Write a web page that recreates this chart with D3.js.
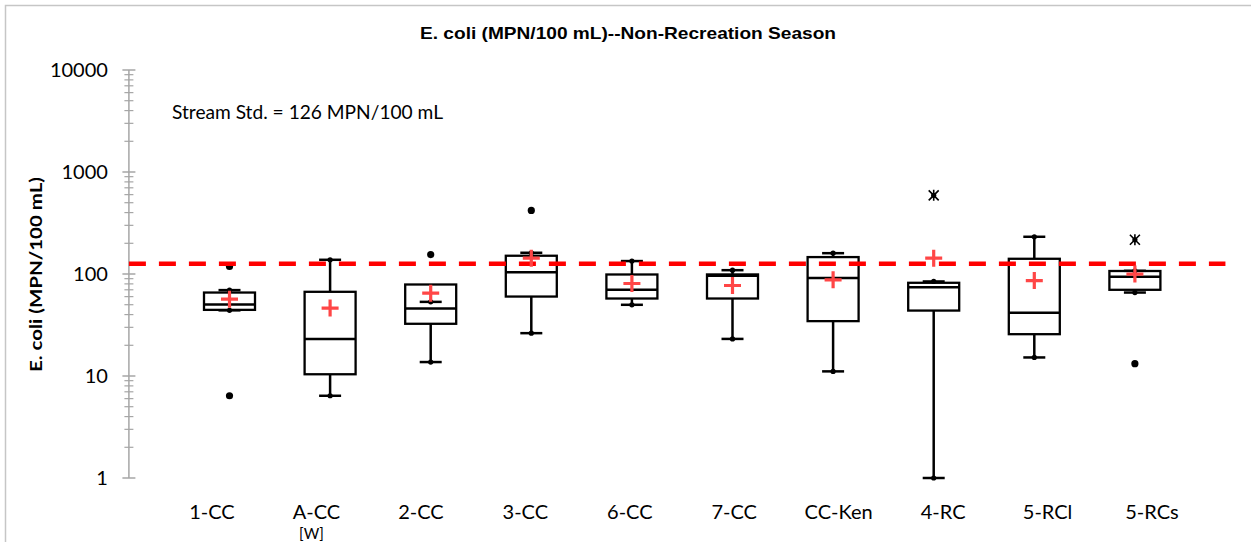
<!DOCTYPE html>
<html>
<head>
<meta charset="utf-8">
<script src="https://cdn.jsdelivr.net/npm/d3@7"></script>
<style>
  html, body { margin: 0; padding: 0; background: #fff; }
  svg { display: block; }
</style>
</head>
<body>
<svg id="chart" width="1251" height="542"></svg>
<script>
// Sampling stations along the creeks
const categories = ["1-CC", "A-CC", "2-CC", "3-CC", "6-CC", "7-CC", "CC-Ken", "4-RC", "5-RCl", "5-RCs"];
const categorySubLabels = ["", "[W]", "", "", "", "", "", "", "", ""];

// Box-plot statistics, E. coli MPN/100 mL
const whiskerLow  = [44,   6.4,  13.7, 26.3, 49.9, 23.1, 11.1, 1.0,  15.2, 65.8];
const quartile1   = [44.5, 10.4, 32.5, 60.1, 57.5, 57.5, 34.5, 43.8, 25.7, 70];
const medians     = [50.2, 23.1, 45.9, 104,  70,   96,   91.2, 74.3, 41.6, 93.9];
const quartile3   = [65.8, 66.9, 78.9, 151,  98.9, 99,   146.5, 82,  141,  107];
const whiskerHigh = [69.5, 137.8, 53.3, 161.5, 133.9, 109, 160, 84.5, 231.7, 107.5];
const means       = [56.7, 46.3, 64.9, 143,  80.7, 77.1, 87.7, 143,  86.3, 99.8];
const outliers    = [[118.5, 6.4], [], [155], [420], [], [], [], [], [], [13.2]];
const extremes    = [[], [], [], [], [], [], [], [590], [], [216.6]];

const streamStandard = 126;
const yTickValues = [1, 10, 100, 1000, 10000];

const svg = d3.select("#chart");
const W = 1251, H = 542;

// Outer chart frame
svg.append("rect")
  .attr("x", 5.5).attr("y", 5.5)
  .attr("width", W + 10).attr("height", H + 10)
  .attr("fill", "#fff").attr("stroke", "#c6c6c6").attr("stroke-width", 1.5);

const y = d3.scaleLog().domain([1, 10000]).range([478, 70]);
const x = d3.scaleLinear().domain([0, 11]).range([128.9, 1235.5]);
const labelX = d3.scalePoint().domain(categories).range([212, 1152]);

// Title
svg.append("text")
  .attr("x", 420).attr("y", 38.5)
  .attr("font-family", "'Liberation Sans', Arial, sans-serif")
  .attr("font-weight", "bold")
  .attr("font-size", 16.5)
  .attr("textLength", 416)
  .attr("lengthAdjust", "spacingAndGlyphs")
  .attr("fill", "#000")
  .text("E. coli (MPN/100 mL)--Non-Recreation Season");

// Y axis title
svg.append("text")
  .attr("transform", "translate(42,372) rotate(-90)")
  .attr("font-family", "Lato, 'Open Sans', sans-serif")
  .attr("font-weight", "bold")
  .attr("font-size", 17)
  .attr("textLength", 195)
  .attr("lengthAdjust", "spacingAndGlyphs")
  .attr("fill", "#000")
  .text("E. coli (MPN/100 mL)");

// Y axis with decade ticks and minor ticks
const minorTicks = [];
for (let d = 1; d < 10000; d *= 10) {
  for (let k = 2; k <= 9; k++) minorTicks.push(d * k);
}
const axisG = svg.append("g").attr("transform", `translate(${x(0)},0)`);
axisG.append("line")
  .attr("x1", 0).attr("x2", 0)
  .attr("y1", y(10000)).attr("y2", y(1))
  .attr("stroke", "#a6a6a6").attr("stroke-width", 1.5);
axisG.selectAll("line.minor").data(minorTicks).join("line")
  .attr("class", "minor")
  .attr("x1", -4.5).attr("x2", 4.5)
  .attr("y1", d => y(d)).attr("y2", d => y(d))
  .attr("stroke", "#a6a6a6").attr("stroke-width", 1.2);
axisG.selectAll("line.major").data(yTickValues).join("line")
  .attr("class", "major")
  .attr("x1", -6.5).attr("x2", 6.5)
  .attr("y1", d => y(d)).attr("y2", d => y(d))
  .attr("stroke", "#a6a6a6").attr("stroke-width", 1.5);
axisG.selectAll("text").data(yTickValues).join("text")
  .attr("x", -21).attr("y", d => y(d))
  .attr("dy", "0.36em")
  .attr("text-anchor", "end")
  .attr("font-family", "Lato, 'Open Sans', sans-serif")
  .attr("font-size", 20)
  .attr("fill", "#000")
  .text(d => d);

// Standard annotation
svg.append("text")
  .attr("x", 172).attr("y", 119)
  .attr("font-family", "Lato, 'Open Sans', sans-serif")
  .attr("font-size", 19)
  .attr("textLength", 271)
  .attr("lengthAdjust", "spacingAndGlyphs")
  .attr("fill", "#000")
  .text("Stream Std. = 126 MPN/100 mL");

// Category labels
const labels = svg.append("g");
labels.selectAll("text.cat").data(categories).join("text")
  .attr("class", "cat")
  .attr("x", d => labelX(d)).attr("y", 519)
  .attr("text-anchor", "middle")
  .attr("font-family", "Lato, 'Open Sans', sans-serif")
  .attr("font-size", 20)
  .attr("fill", "#000")
  .text(d => d);
labels.selectAll("text.sub").data(categories.filter((c, i) => categorySubLabels[i]))
  .join("text")
  .attr("class", "sub")
  .attr("x", d => labelX(d) - 5).attr("y", 539)
  .attr("text-anchor", "middle")
  .attr("font-family", "Lato, 'Open Sans', sans-serif")
  .attr("font-size", 15)
  .attr("fill", "#000")
  .text(d => categorySubLabels[categories.indexOf(d)]);

// Box plots
const boxW = 51, capW = 22;
const boxes = svg.append("g");
categories.forEach((c, i) => {
  const cx = x(i + 1);
  const g = boxes.append("g");
  // whiskers
  if (whiskerHigh[i] > quartile3[i]) {
    g.append("line").attr("x1", cx).attr("x2", cx)
      .attr("y1", y(quartile3[i])).attr("y2", y(whiskerHigh[i]))
      .attr("stroke", "#000").attr("stroke-width", 2.5);
  }
  if (whiskerLow[i] < quartile1[i]) {
    g.append("line").attr("x1", cx).attr("x2", cx)
      .attr("y1", y(quartile1[i])).attr("y2", y(whiskerLow[i]))
      .attr("stroke", "#000").attr("stroke-width", 2.5);
  }
  // box
  g.append("rect")
    .attr("x", cx - boxW / 2).attr("y", y(quartile3[i]))
    .attr("width", boxW).attr("height", y(quartile1[i]) - y(quartile3[i]))
    .attr("fill", "#fff").attr("stroke", "#000").attr("stroke-width", 2.3);
  // median
  g.append("line")
    .attr("x1", cx - boxW / 2).attr("x2", cx + boxW / 2)
    .attr("y1", y(medians[i])).attr("y2", y(medians[i]))
    .attr("stroke", "#000").attr("stroke-width", 2.5);
  // whisker caps with end markers
  [whiskerLow[i], whiskerHigh[i]].forEach(v => {
    g.append("line")
      .attr("x1", cx - capW / 2).attr("x2", cx + capW / 2)
      .attr("y1", y(v)).attr("y2", y(v))
      .attr("stroke", "#000").attr("stroke-width", 2.5);
    g.append("circle").attr("cx", cx).attr("cy", y(v)).attr("r", 2.6).attr("fill", "#000");
  });
  // outliers
  outliers[i].forEach(v => {
    g.append("circle").attr("cx", cx).attr("cy", y(v)).attr("r", 3.6).attr("fill", "#000");
  });
  // extreme values drawn as asterisks
  extremes[i].forEach(v => {
    const ay = y(v), s = 5;
    g.append("path")
      .attr("d", `M${cx - s},${ay - s}L${cx + s},${ay + s}M${cx - s},${ay + s}L${cx + s},${ay - s}M${cx},${ay - s - 0.5}L${cx},${ay + s + 0.5}`)
      .attr("stroke", "#000").attr("stroke-width", 1.6).attr("fill", "none");
    g.append("circle").attr("cx", cx).attr("cy", ay).attr("r", 2.6).attr("fill", "#000");
  });
});

// Stream standard reference line
svg.append("line")
  .attr("x1", x(0)).attr("x2", x(10.9))
  .attr("y1", y(streamStandard)).attr("y2", y(streamStandard))
  .attr("stroke", "#ff0000").attr("stroke-width", 4.5)
  .attr("stroke-dasharray", "17,13");

// Mean markers
svg.append("g").selectAll("path").data(means).join("path")
  .attr("d", (m, i) => {
    const cx = x(i + 1), cy = y(m), h = 8.5;
    return `M${cx - h},${cy}L${cx + h},${cy}M${cx},${cy - h}L${cx},${cy + h}`;
  })
  .attr("stroke", "#ff4646").attr("stroke-width", 3.2).attr("fill", "none");
</script>
</body>
</html>
